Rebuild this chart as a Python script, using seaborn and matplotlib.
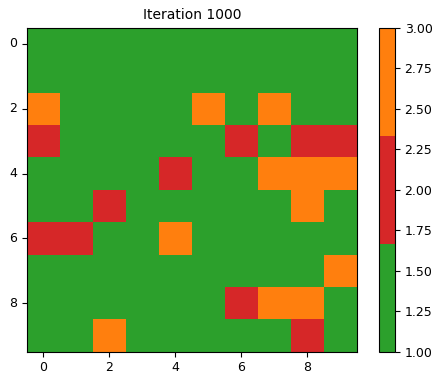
import numpy as np
import matplotlib
matplotlib.use("Agg")
import matplotlib.pyplot as plt
from matplotlib.colors import ListedColormap
import seaborn as sns

# ===== DATA: trang thai luoi 10x10 (1=green, 2=red, 3=orange) =====
grid = [
    [1, 1, 1, 1, 1, 1, 1, 1, 1, 1],
    [1, 1, 1, 1, 1, 1, 1, 1, 1, 1],
    [3, 1, 1, 1, 1, 3, 1, 3, 1, 1],
    [2, 1, 1, 1, 1, 1, 2, 1, 2, 2],
    [1, 1, 1, 1, 2, 1, 1, 3, 3, 3],
    [1, 1, 2, 1, 1, 1, 1, 1, 3, 1],
    [2, 2, 1, 1, 3, 1, 1, 1, 1, 1],
    [1, 1, 1, 1, 1, 1, 1, 1, 1, 3],
    [1, 1, 1, 1, 1, 1, 2, 3, 3, 1],
    [1, 1, 3, 1, 1, 1, 1, 1, 2, 1],
]
state_colors = ["#2ca02c", "#d62728", "#ff7f0e"]
tick_pos = [0, 2, 4, 6, 8]
cbar_ticks = [1.0, 1.25, 1.5, 1.75, 2.0, 2.25, 2.5, 2.75, 3.0]
title = "Iteration 1000"

fig = plt.figure(figsize=(4.33, 3.75), dpi=100)
# chua cho duoi cho nhan truc x khoi bi cat
ax = fig.add_axes([0.062, 0.062, 0.762, 0.864])
cax = fig.add_axes([0.875, 0.062, 0.037, 0.864])

sns.heatmap(np.array(grid), cmap=ListedColormap(state_colors), vmin=1, vmax=3,
            ax=ax, cbar_ax=cax, square=False)

# lay lai style kieu imshow
for s in ax.spines.values():
    s.set_visible(True)
    s.set_linewidth(0.8)
ax.set_xticks([p + 0.5 for p in tick_pos])
ax.set_xticklabels([str(p) for p in tick_pos], rotation=0)
ax.set_yticks([p + 0.5 for p in tick_pos])
ax.set_yticklabels([str(p) for p in tick_pos], rotation=0)
ax.tick_params(length=3.5, labelsize=9)
ax.set_title(title, fontsize=10)

cb = ax.collections[0].colorbar
cb.set_ticks(cbar_ticks)
cb.set_ticklabels([f"{t:.2f}" for t in cbar_ticks])
cb.outline.set_visible(True)
cb.outline.set_linewidth(0.8)
cax.tick_params(length=3.5, labelsize=9)

plt.savefig("out.png", dpi=100)
